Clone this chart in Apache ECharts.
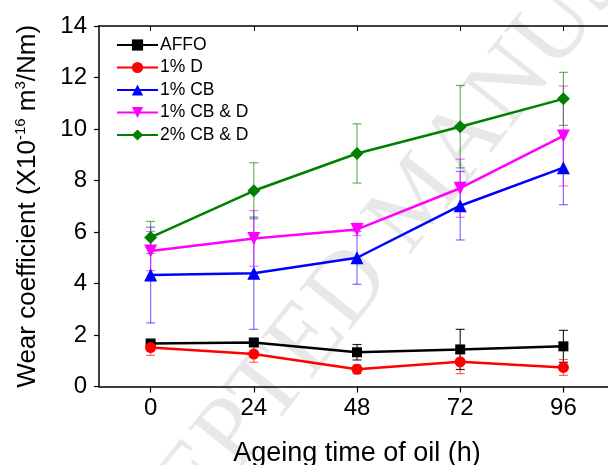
<!DOCTYPE html>
<html>
<head>
<meta charset="utf-8">
<script src="https://cdn.jsdelivr.net/npm/echarts@6/dist/echarts.min.js"></script>
<style>
html,body{margin:0;padding:0;background:#fff;}
#chart{width:608px;height:465px;}
</style>
</head>
<body>
<div id="chart"></div>
<script>
// ---- data ----
const hours = [0, 24, 48, 72, 96];
const xTickLabels = [0, 24, 48, 72, 96];
const yTickLabels = [0, 2, 4, 6, 8, 10, 12, 14];
const seriesNames = ['AFFO', '1% D', '1% CB', '1% CB & D', '2% CB & D'];
const affo = [1.67, 1.71, 1.33, 1.44, 1.56];
const affoErr = [0.10, 0.06, 0.30, 0.78, 0.62];
const d1 = [1.51, 1.26, 0.67, 0.96, 0.74];
const d1Err = [0.30, 0.32, 0.17, 0.46, 0.31];
const cb1 = [4.33, 4.40, 5.00, 7.02, 8.50];
const cb1Err = [1.86, 2.18, 1.03, 1.33, 1.44];
const cbd1 = [5.26, 5.75, 6.10, 7.70, 9.73];
const cbd1Err = [0.76, 1.08, 0.24, 1.13, 1.94];
const cbd2 = [5.79, 7.60, 9.05, 10.09, 11.17];
const cbd2Err = [0.62, 1.09, 1.15, 1.60, 1.03];

const values = [affo, d1, cb1, cbd1, cbd2];
const errors = [affoErr, d1Err, cb1Err, cbd1Err, cbd2Err];
const colors = ['#000000', '#ff0000', '#0000ff', '#ff00ff', '#008000'];
const errColors = ['rgba(0,0,0,0.85)', 'rgba(255,0,0,0.6)', 'rgba(0,0,255,0.55)', 'rgba(255,0,255,0.6)', 'rgba(0,128,0,0.6)'];
const symbols = ['rect', 'circle', 'triangle', 'path://M0,0 L10,0 L5,9 Z', 'diamond'];
const symbolSizes = [10, 11, 13, 13, 13];

const FONT = 'Arial, "Liberation Sans", sans-serif';

const chart = echarts.init(document.getElementById('chart'), null, {renderer: 'canvas'});

const series = [];
values.forEach((vals, k) => {
  series.push({
    type: 'custom',
    name: seriesNames[k] + ' error',
    silent: true,
    z: 1,
    data: hours.map((h, i) => [h, vals[i] - errors[k][i], vals[i] + errors[k][i]]),
    encode: {x: 0, y: [1, 2]},
    renderItem: function (params, api) {
      const x = api.value(0);
      const lo = api.coord([x, api.value(1)]);
      const hi = api.coord([x, api.value(2)]);
      const hw = 4.5;
      const st = {stroke: errColors[k], lineWidth: 1.2};
      return {
        type: 'group',
        children: [
          {type: 'line', shape: {x1: lo[0], y1: lo[1], x2: hi[0], y2: hi[1]}, style: st},
          {type: 'line', shape: {x1: lo[0] - hw, y1: lo[1], x2: lo[0] + hw, y2: lo[1]}, style: st},
          {type: 'line', shape: {x1: hi[0] - hw, y1: hi[1], x2: hi[0] + hw, y2: hi[1]}, style: st}
        ]
      };
    }
  });
});
values.forEach((vals, k) => {
  series.push({
    type: 'line',
    name: seriesNames[k],
    z: 3,
    data: hours.map((h, i) => [h, vals[i]]),
    symbol: symbols[k],
    symbolSize: symbolSizes[k],
    showAllSymbol: true,
    lineStyle: {color: colors[k], width: 2.5},
    itemStyle: {color: colors[k]}
  });
});

const option = {
  animation: false,
  backgroundColor: '#ffffff',
  graphic: [{
    type: 'text',
    x: 420, y: 200,
    rotation: 0.9,
    z: -10,
    silent: true,
    style: {
      text: 'ACCEPTED MANUSCRIPT',
      font: '100px "Liberation Serif", serif',
      fill: 'rgba(0,0,0,0.09)',
      textAlign: 'center',
      textVerticalAlign: 'middle'
    }
  }],
  grid: {left: 99, top: 26, width: 516, height: 360.5, containLabel: false, outerBoundsMode: 'none'},
  legend: {
    orient: 'vertical',
    left: 116,
    top: 36,
    padding: 0,
    itemWidth: 41,
    itemHeight: 14,
    itemGap: 4.5,
    data: seriesNames,
    textStyle: {fontFamily: FONT, fontSize: 17.5, color: '#000', lineHeight: 17, padding: [0, 0, 0, -3]}
  },
  xAxis: [{
    type: 'value',
    min: -12,
    max: 108,
    position: 'bottom',
    name: 'Ageing time of oil (h)',
    nameLocation: 'middle',
    nameGap: 54,
    nameTextStyle: {fontFamily: FONT, fontSize: 27, color: '#000'},
    axisLine: {show: true, onZero: false, lineStyle: {color: '#000', width: 1.5}},
    axisTick: {show: true, inside: false, length: 6, customValues: xTickLabels, lineStyle: {color: '#000', width: 1.2}},
    axisLabel: {show: true, customValues: xTickLabels, margin: 10, fontFamily: FONT, fontSize: 24, color: '#000'},
    splitLine: {show: false}
  }, {
    type: 'value',
    min: -12,
    max: 108,
    position: 'top',
    axisLine: {show: true, onZero: false, lineStyle: {color: '#000', width: 1.5}},
    axisTick: {show: true, inside: true, length: 5, customValues: xTickLabels, lineStyle: {color: '#000', width: 1}},
    axisLabel: {show: false},
    splitLine: {show: false}
  }],
  yAxis: [{
    type: 'value',
    min: 0,
    max: 14,
    interval: 2,
    position: 'left',
    name: '{n|Wear coefficient (X10}{s|-16}{n| m}{s|3}{n|/Nm)}',
    nameLocation: 'middle',
    nameRotate: 90,
    nameGap: 56,
    nameTextStyle: {
      fontFamily: FONT, fontSize: 26, color: '#000',
      rich: {
        n: {fontFamily: FONT, fontSize: 26, color: '#000', lineHeight: 30},
        s: {fontFamily: FONT, fontSize: 15, color: '#000', verticalAlign: 'top', lineHeight: 30}
      }
    },
    axisLine: {show: true, onZero: false, lineStyle: {color: '#000', width: 1.5}},
    axisTick: {show: true, inside: false, length: 5, lineStyle: {color: '#000', width: 1.2}},
    axisLabel: {show: true, margin: 12, fontFamily: FONT, fontSize: 24, color: '#000'},
    splitLine: {show: false}
  }],
  series: series
};
chart.setOption(option);
</script>
</body>
</html>
